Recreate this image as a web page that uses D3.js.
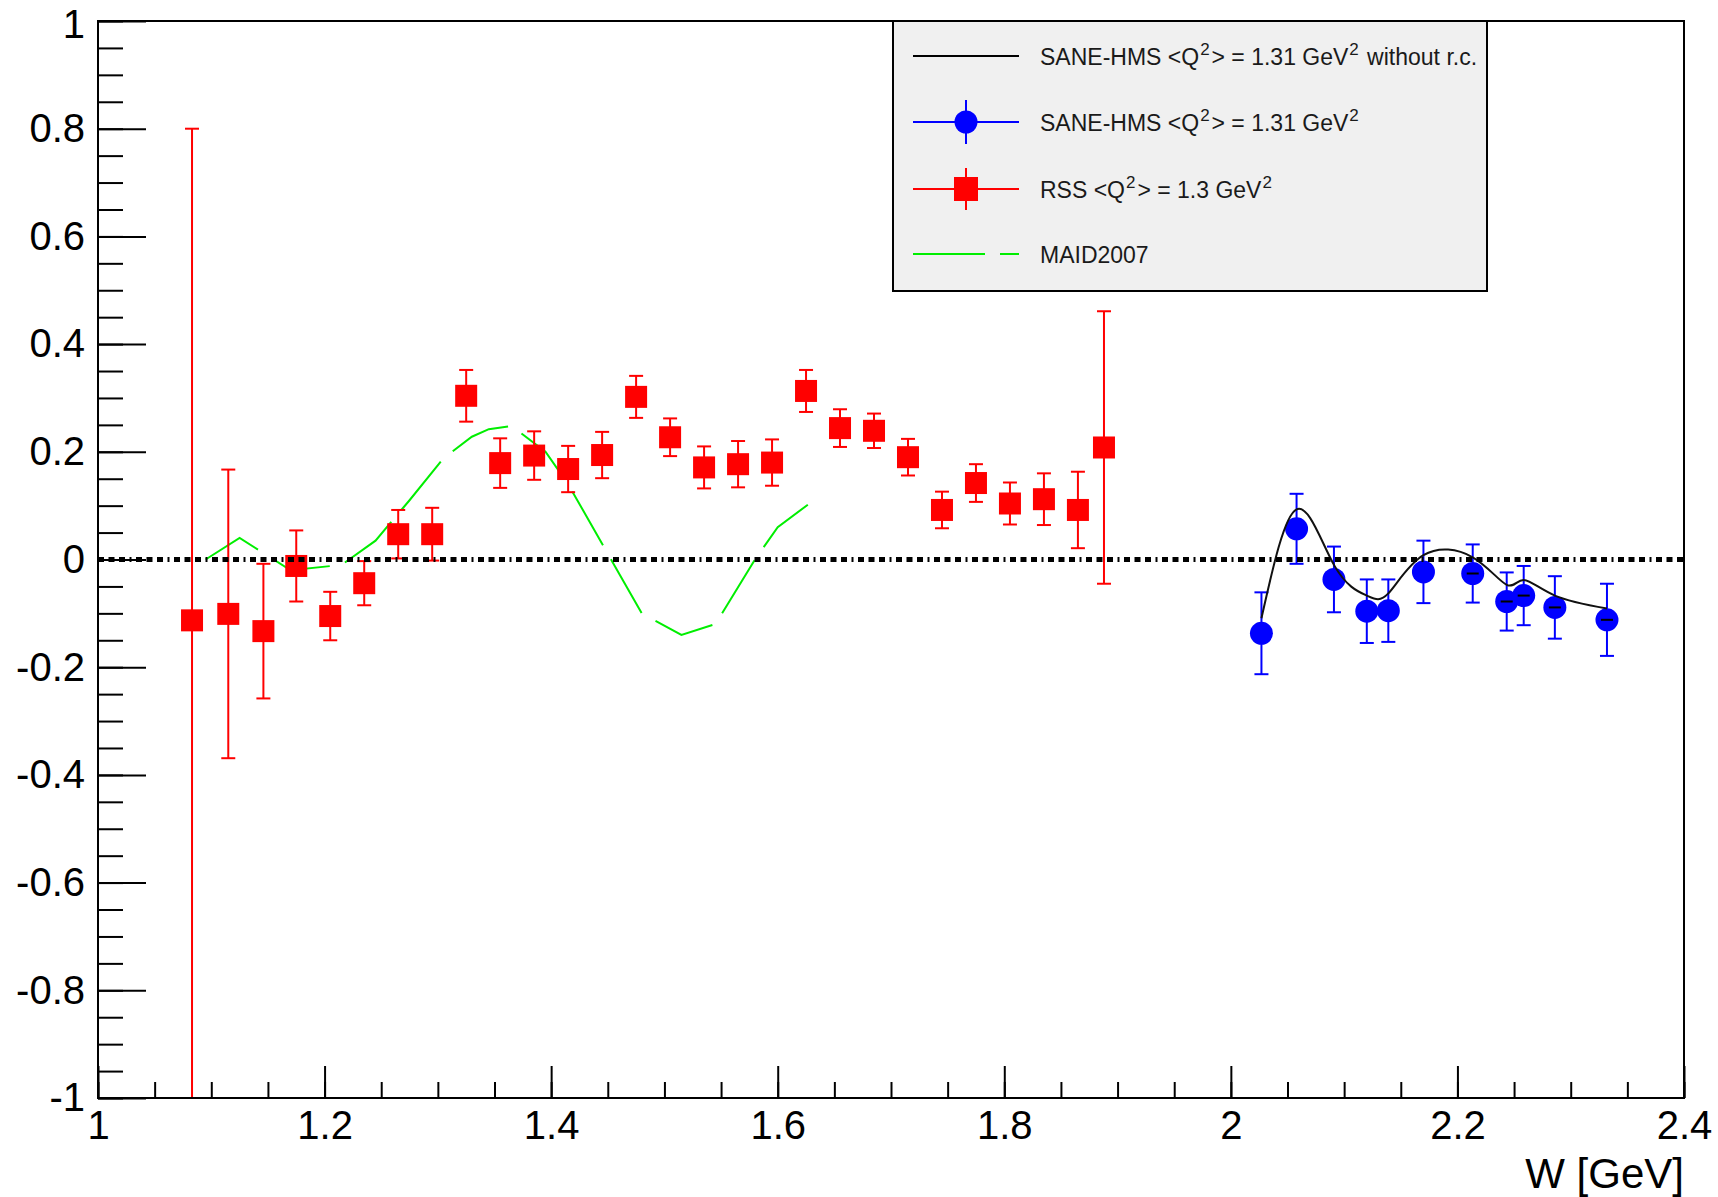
<!DOCTYPE html>
<html>
<head>
<meta charset="utf-8">
<script src="https://cdn.jsdelivr.net/npm/d3@7"></script>
<style>
  body { margin: 0; background: #fff; }
  svg { display: block; font-family: "Liberation Sans", Arial, sans-serif; }
</style>
</head>
<body>
<svg></svg>
<script>
"use strict";

// RSS <Q^2> = 1.3 GeV^2
var rssW = [1.083, 1.115, 1.146, 1.175, 1.205, 1.235, 1.265, 1.295, 1.325, 1.355,
            1.385, 1.415, 1.445, 1.475, 1.505, 1.535, 1.565, 1.595, 1.625, 1.655,
            1.685, 1.715, 1.745, 1.775, 1.805, 1.835, 1.865, 1.888];
var rssA = [-0.113, -0.101, -0.133, -0.012, -0.105, -0.044, 0.047, 0.047, 0.304, 0.179,
            0.193, 0.168, 0.194, 0.302, 0.227, 0.171, 0.177, 0.180, 0.313, 0.244,
            0.239, 0.190, 0.092, 0.142, 0.104, 0.112, 0.092, 0.208];
var rssErr = [0.913, 0.268, 0.125, 0.066, 0.045, 0.041, 0.045, 0.049, 0.048, 0.046,
              0.045, 0.043, 0.043, 0.039, 0.035, 0.039, 0.043, 0.043, 0.039, 0.035,
              0.032, 0.034, 0.034, 0.035, 0.039, 0.048, 0.071, 0.253];

// SANE-HMS <Q^2> = 1.31 GeV^2
var saneW = [2.027, 2.058, 2.091, 2.120, 2.139, 2.170, 2.2135, 2.2435, 2.2585, 2.286, 2.332];
var saneA = [-0.137, 0.057, -0.037, -0.096, -0.095, -0.023, -0.026, -0.078, -0.067, -0.089, -0.112];
var saneErr = [0.076, 0.065, 0.061, 0.059, 0.058, 0.058, 0.054, 0.054, 0.055, 0.058, 0.067];
// same kinematics, without radiative corrections (drawn as smooth curve)
var saneNoRc = [-0.109, 0.093, -0.010, -0.067, -0.063, 0.008, 0.004, -0.047, -0.038, -0.067, -0.091];
// points that carry the small black bar
var saneBar = [false, false, false, false, false, false, true, true, true, true, true];

// MAID2007
var maidW = [1.095, 1.125, 1.17, 1.215, 1.245, 1.275, 1.305, 1.33, 1.345, 1.365,
             1.395, 1.415, 1.48, 1.515, 1.545, 1.58, 1.60, 1.635];
var maidA = [0.000, 0.040, -0.020, -0.010, 0.035, 0.110, 0.188, 0.228, 0.242, 0.248,
             0.200, 0.140, -0.100, -0.140, -0.120, 0.000, 0.060, 0.115];

var xTicks = [1, 1.2, 1.4, 1.6, 1.8, 2, 2.2, 2.4];
var yTicks = [-1, -0.8, -0.6, -0.4, -0.2, 0, 0.2, 0.4, 0.6, 0.8, 1];

var legendLabels = [
  ["SANE-HMS <Q", "^2", "> = 1.31 GeV", "^2", " without r.c."],
  ["SANE-HMS <Q", "^2", "> = 1.31 GeV", "^2"],
  ["RSS <Q", "^2", "> = 1.3 GeV", "^2"],
  ["MAID2007"]
];

var Draw = (function() {

  var width = 1718, height = 1197;
  var left = 98, right = 1684, top = 21, bottom = 1098;

  var svg = d3.select("svg")
      .attr("width", width)
      .attr("height", height);

  var x = d3.scaleLinear().domain([1, 2.4]).range([left, right]);
  var y = d3.scaleLinear().domain([-1, 1]).range([bottom, top]);

  svg.append("defs").append("clipPath")
      .attr("id", "plot")
    .append("rect")
      .attr("x", left).attr("y", top)
      .attr("width", right - left).attr("height", bottom - top);

  var plot = svg.append("g").attr("clip-path", "url(#plot)");

  // MAID2007 curve
  plot.append("path")
      .datum(d3.range(maidW.length))
      .attr("fill", "none")
      .attr("stroke", "#00ee00")
      .attr("stroke-width", 2)
      .attr("stroke-dasharray", "62,16")
      .attr("d", d3.line().x(i => x(maidW[i])).y(i => y(maidA[i])));

  // RSS error bars and squares
  var clampY = v => y(Math.max(-1, Math.min(1, v)));
  var rss = plot.append("g").attr("stroke", "#ff0000").attr("stroke-width", 2);
  var rI = d3.range(rssW.length);
  rss.selectAll("line.bar").data(rI).join("line")
      .attr("x1", i => x(rssW[i])).attr("x2", i => x(rssW[i]))
      .attr("y1", i => clampY(rssA[i] - rssErr[i])).attr("y2", i => clampY(rssA[i] + rssErr[i]));
  rss.selectAll("line.capHi").data(rI).join("line")
      .attr("x1", i => x(rssW[i]) - 7).attr("x2", i => x(rssW[i]) + 7)
      .attr("y1", i => clampY(rssA[i] + rssErr[i])).attr("y2", i => clampY(rssA[i] + rssErr[i]));
  rss.selectAll("line.capLo").data(rI).join("line")
      .attr("x1", i => x(rssW[i]) - 7).attr("x2", i => x(rssW[i]) + 7)
      .attr("y1", i => clampY(rssA[i] - rssErr[i])).attr("y2", i => clampY(rssA[i] - rssErr[i]));
  plot.append("g").selectAll("rect").data(rI).join("rect")
      .attr("x", i => x(rssW[i]) - 11).attr("y", i => y(rssA[i]) - 11)
      .attr("width", 22).attr("height", 22)
      .attr("fill", "#ff0000");

  // SANE-HMS points
  var sI = d3.range(saneW.length);
  var sane = plot.append("g").attr("stroke", "#0000ff").attr("stroke-width", 2);
  sane.selectAll("line.bar").data(sI).join("line")
      .attr("x1", i => x(saneW[i])).attr("x2", i => x(saneW[i]))
      .attr("y1", i => y(saneA[i] - saneErr[i])).attr("y2", i => y(saneA[i] + saneErr[i]));
  sane.selectAll("line.capHi").data(sI).join("line")
      .attr("x1", i => x(saneW[i]) - 7).attr("x2", i => x(saneW[i]) + 7)
      .attr("y1", i => y(saneA[i] + saneErr[i])).attr("y2", i => y(saneA[i] + saneErr[i]));
  sane.selectAll("line.capLo").data(sI).join("line")
      .attr("x1", i => x(saneW[i]) - 7).attr("x2", i => x(saneW[i]) + 7)
      .attr("y1", i => y(saneA[i] - saneErr[i])).attr("y2", i => y(saneA[i] - saneErr[i]));
  plot.append("g").selectAll("circle").data(sI).join("circle")
      .attr("cx", i => x(saneW[i])).attr("cy", i => y(saneA[i]))
      .attr("r", 11.5)
      .attr("fill", "#0000ff");

  // without r.c. curve
  plot.append("path")
      .datum(sI)
      .attr("fill", "none")
      .attr("stroke", "#111")
      .attr("stroke-width", 2)
      .attr("d", d3.line().curve(d3.curveNatural).x(i => x(saneW[i])).y(i => y(saneNoRc[i])));

  plot.append("g").selectAll("line").data(sI.filter(i => saneBar[i])).join("line")
      .attr("x1", i => x(saneW[i]) - 6).attr("x2", i => x(saneW[i]) + 6)
      .attr("y1", i => y(saneA[i])).attr("y2", i => y(saneA[i]))
      .attr("stroke", "#000").attr("stroke-width", 2);

  // zero line
  plot.append("line")
      .attr("x1", x(1)).attr("x2", x(2.4))
      .attr("y1", y(0)).attr("y2", y(0))
      .attr("stroke", "#000")
      .attr("stroke-width", 5)
      .attr("stroke-dasharray", "6,4.5,6,4.5,6,4.5,2,4.5");

  // axes
  var fmt = d => String(d);
  var axisStyle = function(g) {
    g.select(".domain").remove();
    g.selectAll("line").attr("stroke", "#000").attr("stroke-width", 2);
    g.selectAll("text").attr("font-size", 40).attr("fill", "#000")
        .attr("font-family", "'Liberation Sans', Arial, sans-serif");
  };

  svg.append("g")
      .attr("transform", `translate(0,${bottom})`)
      .call(d3.axisBottom(x).ticks(28).tickSize(-16).tickFormat(""))
      .call(axisStyle);
  svg.append("g")
      .attr("transform", `translate(0,${bottom})`)
      .call(d3.axisBottom(x).tickValues(xTicks).tickSize(-32).tickPadding(13).tickFormat(fmt))
      .call(axisStyle);
  svg.append("g")
      .attr("transform", `translate(${left},0)`)
      .call(d3.axisLeft(y).ticks(40).tickSize(-25).tickFormat(""))
      .call(axisStyle);
  svg.append("g")
      .attr("transform", `translate(${left},0)`)
      .call(d3.axisLeft(y).tickValues(yTicks).tickSize(-48).tickPadding(13).tickFormat(fmt))
      .call(axisStyle)
      // the top label sits a little lower, as in the original
      .selectAll("text").filter(d => d === 1).attr("y", 4);

  // frame
  svg.append("rect")
      .attr("x", left).attr("y", top)
      .attr("width", right - left).attr("height", bottom - top)
      .attr("fill", "none")
      .attr("stroke", "#000")
      .attr("stroke-width", 2);

  svg.append("text")
      .attr("x", right).attr("y", 1188)
      .attr("text-anchor", "end")
      .attr("font-size", 42)
      .text("W [GeV]");

  // legend
  var lg = svg.append("g");
  lg.append("rect")
      .attr("x", 893).attr("y", 21)
      .attr("width", 594).attr("height", 270)
      .attr("fill", "#f0f0f0")
      .attr("stroke", "#000")
      .attr("stroke-width", 2);

  var rowY = [56, 122, 189, 254];
  var symX0 = 913, symX1 = 1019, symXc = 966;

  lg.append("line").attr("x1", symX0).attr("x2", symX1).attr("y1", rowY[0]).attr("y2", rowY[0])
      .attr("stroke", "#000").attr("stroke-width", 2);

  lg.append("line").attr("x1", symX0).attr("x2", symX1).attr("y1", rowY[1]).attr("y2", rowY[1])
      .attr("stroke", "#0000ff").attr("stroke-width", 2);
  lg.append("line").attr("x1", symXc).attr("x2", symXc).attr("y1", rowY[1] - 22).attr("y2", rowY[1] + 22)
      .attr("stroke", "#0000ff").attr("stroke-width", 2);
  lg.append("circle").attr("cx", symXc).attr("cy", rowY[1]).attr("r", 11.5).attr("fill", "#0000ff");

  lg.append("line").attr("x1", symX0).attr("x2", symX1).attr("y1", rowY[2]).attr("y2", rowY[2])
      .attr("stroke", "#ff0000").attr("stroke-width", 2);
  lg.append("line").attr("x1", symXc).attr("x2", symXc).attr("y1", rowY[2] - 21).attr("y2", rowY[2] + 21)
      .attr("stroke", "#ff0000").attr("stroke-width", 2);
  lg.append("rect").attr("x", symXc - 12).attr("y", rowY[2] - 12).attr("width", 24).attr("height", 24)
      .attr("fill", "#ff0000");

  lg.append("line").attr("x1", symX0).attr("x2", symX1).attr("y1", rowY[3]).attr("y2", rowY[3])
      .attr("stroke", "#00ee00").attr("stroke-width", 2)
      .attr("stroke-dasharray", "72,15");

  legendLabels.forEach(function(parts, k) {
    var t = lg.append("text")
        .attr("x", 1040).attr("y", rowY[k] + 9)
        .attr("font-size", 23)
        .attr("fill", "#1a1a1a");
    parts.forEach(function(p) {
      if (p[0] === "^") {
        t.append("tspan").attr("font-size", 17).attr("dy", -10).attr("dx", 1).text(p.slice(1));
        t.append("tspan").attr("dy", 10).text("\u200a");
      } else {
        t.append("tspan").text(p);
      }
    });
  });
});

Draw();
</script>
</body>
</html>
